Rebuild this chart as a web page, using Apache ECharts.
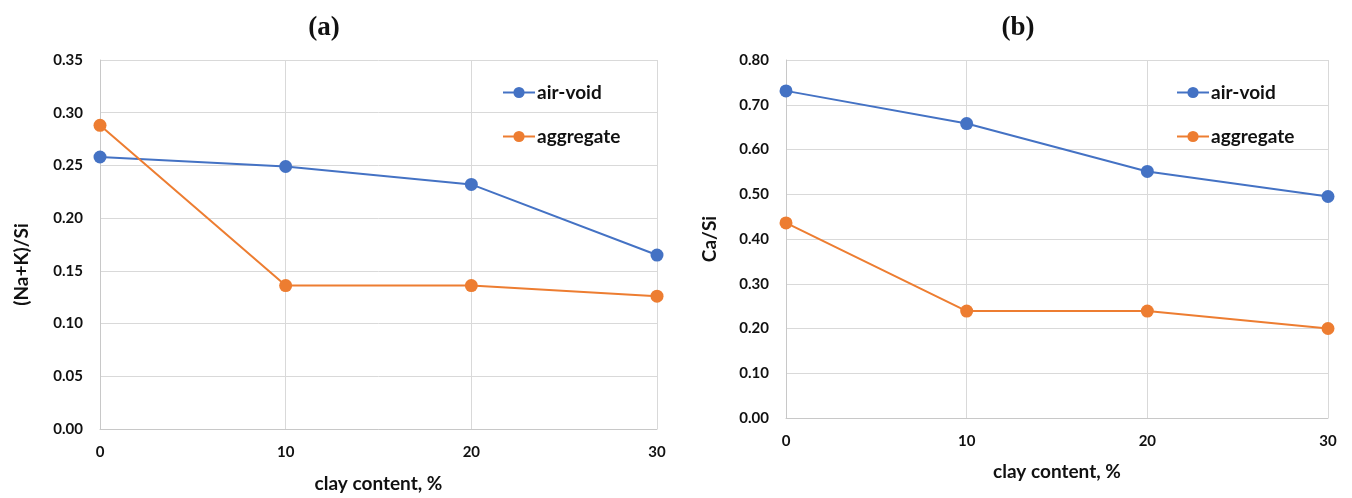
<!DOCTYPE html>
<html>
<head>
<meta charset="utf-8">
<script src="https://cdn.jsdelivr.net/npm/echarts@6/dist/echarts.min.js"></script>
<style>
    html, body { margin: 0; padding: 0; background: #fff; }
    #chart { width: 1352px; height: 498px; }
</style>
</head>
<body>
<div id="chart"></div>
<script>
// clay content, %
var clayContent = [0, 10, 20, 30];
// (a) (Na+K)/Si
var naKAirVoid = [0.258, 0.249, 0.232, 0.165];
var naKAggregate = [0.288, 0.136, 0.136, 0.126];
// (b) Ca/Si
var caAirVoid = [0.731, 0.658, 0.551, 0.495];
var caAggregate = [0.436, 0.239, 0.239, 0.200];

var seriesNames = ['air-void', 'aggregate'];
var colors = ['#4472C4', '#ED7D31'];

var labelFont = 'Lato, "Open Sans", sans-serif';

function pairs(ys) {
    return clayContent.map(function (x, i) { return [x, ys[i]]; });
}

function makeX(gridIndex, gap) {
    return {
        type: 'value',
        gridIndex: gridIndex,
        min: 0,
        max: 30,
        interval: 10,
        name: 'clay content, %',
        nameLocation: 'middle',
        nameGap: gap,
        nameTextStyle: { color: '#111', fontFamily: labelFont, fontWeight: 'bold', fontSize: 19 },
        axisLine: { lineStyle: { color: '#c8c8c8', width: 1 } },
        axisTick: { show: false },
        axisLabel: { color: '#111', fontFamily: labelFont, fontWeight: 'bold', fontSize: 15, margin: 16 },
        splitLine: { show: true, lineStyle: { color: '#d9d9d9', width: 1 } }
    };
}

function makeY(gridIndex, name, max, interval, gap, pad) {
    return {
        type: 'value',
        gridIndex: gridIndex,
        min: 0,
        max: max,
        interval: interval,
        name: name,
        nameLocation: 'middle',
        nameGap: gap,
        nameTextStyle: { color: '#111', fontFamily: labelFont, fontWeight: 'bold', fontSize: 19, padding: pad },
        axisLine: { show: true, lineStyle: { color: '#c8c8c8', width: 1 } },
        axisTick: { show: false },
        axisLabel: {
            color: '#111', fontFamily: labelFont, fontWeight: 'bold', fontSize: 15, margin: 17,
            formatter: function (v) { return v.toFixed(2); }
        },
        splitLine: { show: true, lineStyle: { color: '#d9d9d9', width: 1 } }
    };
}

function makeSeries(name, idx, data) {
    return {
        name: name,
        type: 'line',
        xAxisIndex: idx,
        yAxisIndex: idx,
        data: pairs(data),
        symbol: 'circle',
        symbolSize: 13,
        lineStyle: { width: 2 },
        color: colors[seriesNames.indexOf(name)]
    };
}

function makeLegend(left) {
    return {
        orient: 'vertical',
        left: left,
        top: 78,
        itemWidth: 32,
        itemHeight: 14,
        itemGap: 25,
        data: seriesNames,
        textStyle: { color: '#111', fontFamily: labelFont, fontWeight: 'bold', fontSize: 19, padding: [0, 0, 0, -3] }
    };
}

function makeTitle(letter, left) {
    return {
        text: '{p|(}{b|' + letter + '}{p|)}',
        left: left,
        top: 10,
        textAlign: 'center',
        textStyle: {
            rich: {
                p: { fontFamily: '"Liberation Serif", serif', fontSize: 27, color: '#111' },
                b: { fontFamily: '"Liberation Serif", serif', fontSize: 27, fontWeight: 'bold', color: '#111' }
            }
        }
    };
}

var option = {
    animation: false,
    backgroundColor: '#fff',
    title: [makeTitle('a', 319), makeTitle('b', 1013)],
    legend: [makeLegend(497), makeLegend(1171)],
    grid: [
        { left: 100, right: 695, top: 60, bottom: 69 },
        { left: 786, right: 24, top: 60, bottom: 80 }
    ],
    xAxis: [makeX(0, 45), makeX(1, 44)],
    yAxis: [
        makeY(0, '(Na+K)/Si', 0.35, 0.05, 69, [0, 40, 0, 0]),
        makeY(1, 'Ca/Si', 0.8, 0.1, 67, 0)
    ],
    series: [
        makeSeries('air-void', 0, naKAirVoid),
        makeSeries('aggregate', 0, naKAggregate),
        makeSeries('air-void', 1, caAirVoid),
        makeSeries('aggregate', 1, caAggregate)
    ]
};

var chart = echarts.init(document.getElementById('chart'));
chart.setOption(option);
</script>
</body>
</html>
